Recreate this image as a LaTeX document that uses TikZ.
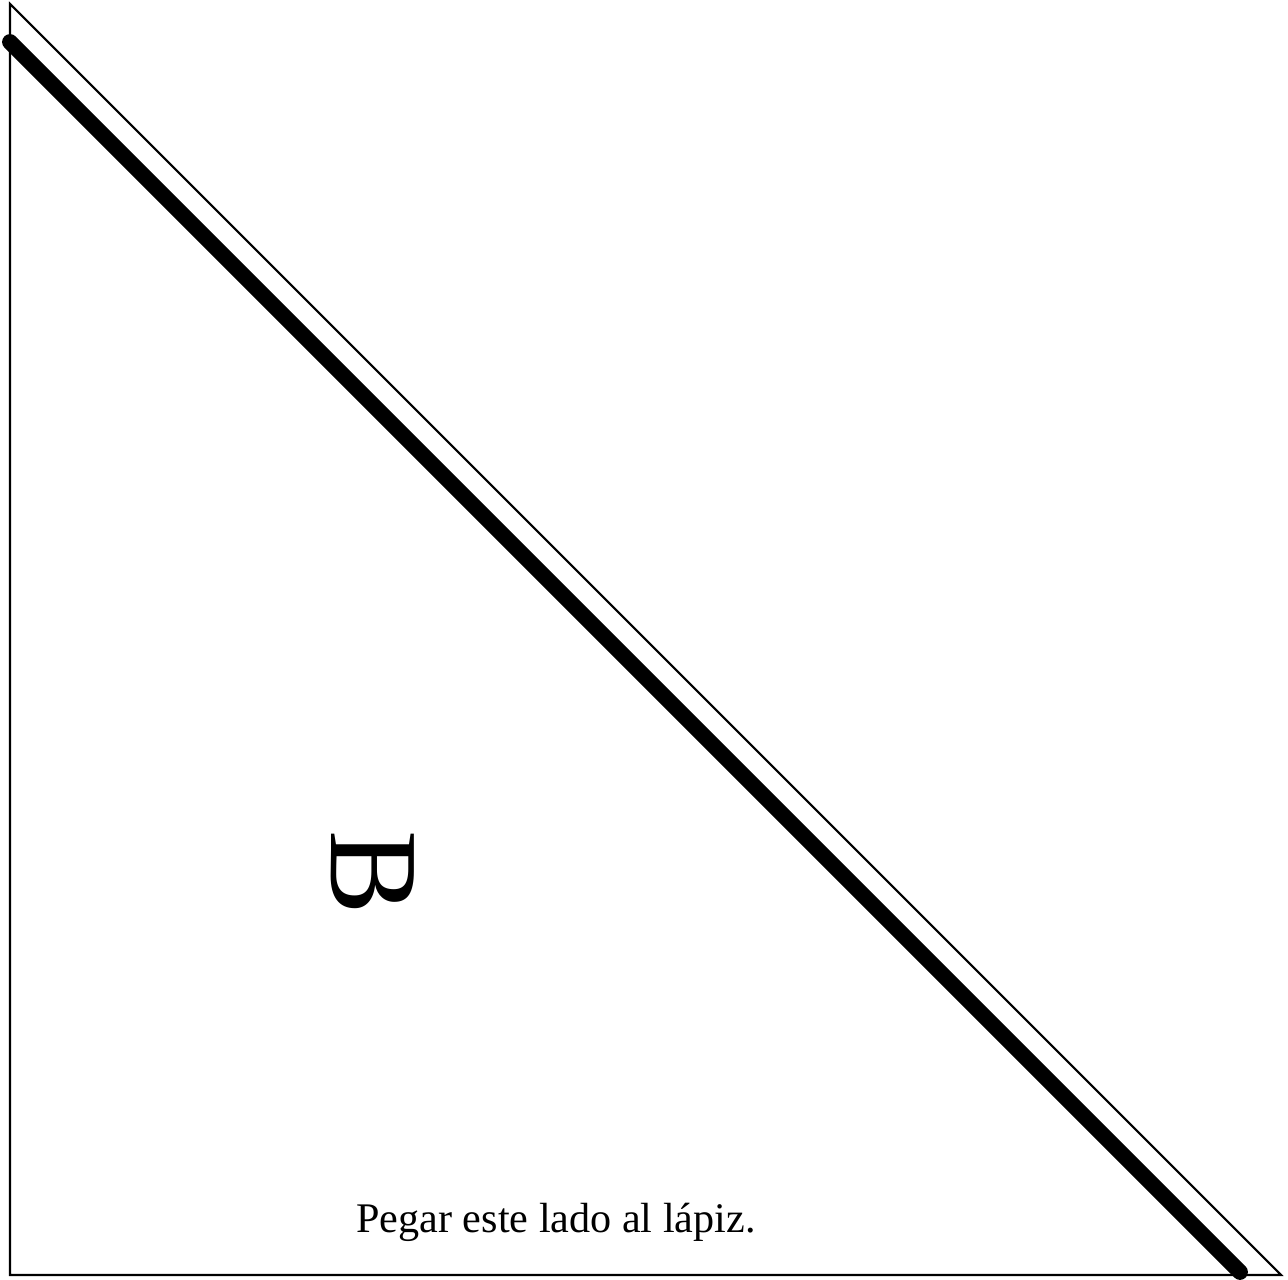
\documentclass[tikz,border=0pt]{standalone}
\usepackage{fontspec}
\setmainfont{Liberation Serif}
\begin{document}
\begin{tikzpicture}[line join=miter]
      \useasboundingbox (0,0) rectangle (12.88,12.79);
      \coordinate (A) at (0.10,12.75);
      \coordinate (C) at (0.10,0.04);
      \coordinate (D) at (12.81,0.04);
      \coordinate (P) at (0.10,12.37);
      \coordinate (Q) at (12.40,0.07);
      \draw[line width=0.6pt] (A) -- (C) -- (D) -- cycle;
      \draw[line width=4.5pt, line cap=round] (P) -- (Q);
      \node[rotate=-90, font=\fontsize{36}{40}\selectfont] (B) at (3.73,4.06) {B};
      \node[anchor=base, font=\fontsize{12}{14}\selectfont] (lbl) at (5.56,0.47) {Pegar este lado al lápiz.};
    \end{tikzpicture}
\end{document}
